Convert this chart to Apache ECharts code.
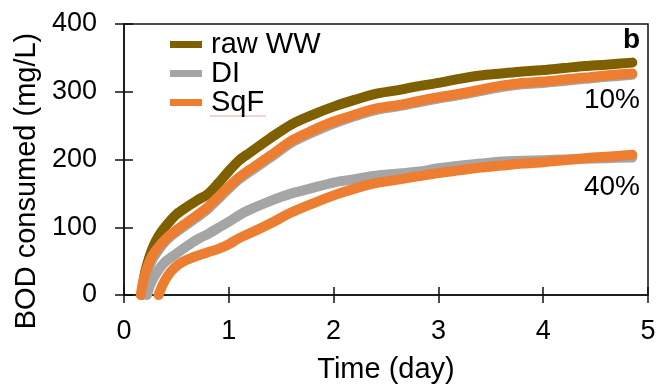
<!DOCTYPE html>
<html>
<head>
<meta charset="utf-8">
<script src="https://cdn.jsdelivr.net/npm/echarts@6/dist/echarts.min.js"></script>
<style>
html,body{margin:0;padding:0;background:#fff;}
#chart{width:666px;height:387px;}
</style>
</head>
<body>
<div id="chart"></div>
<script>
// ---- data ----
const xTicks = [0, 1, 2, 3, 4, 5];
const yTicks = [0, 100, 200, 300, 400];

const rawWW = [[0.17,0],[0.19,25],[0.22,45],[0.27,68],[0.33,87],[0.40,102],[0.50,119],[0.60,130],[0.70,140],[0.80,149],[0.90,165],[1.00,183],[1.10,199],[1.20,210],[1.40,232],[1.60,252],[1.80,266],[2.00,278],[2.20,288],[2.40,297],[2.60,302],[2.80,308],[3.00,313],[3.20,319],[3.40,324],[3.60,327],[3.80,330],[4.00,332],[4.20,335],[4.40,338],[4.60,340],[4.85,343]];

const di10 = [[0.17,0],[0.19,16],[0.22,33],[0.26,49],[0.31,62],[0.40,80],[0.50,93],[0.60,104],[0.70,115],[0.80,127],[0.90,142],[1.00,157],[1.10,171],[1.20,182],[1.40,203],[1.60,225],[1.80,240],[2.00,253],[2.20,264],[2.40,273],[2.60,278],[2.80,284],[3.00,290],[3.20,295],[3.40,301],[3.60,307],[3.80,311],[4.00,313],[4.20,316],[4.40,319],[4.60,322],[4.85,325]];

const di40 = [[0.22,0],[0.25,15],[0.30,30],[0.38,47],[0.50,61],[0.60,72],[0.70,82],[0.80,90],[0.90,99],[1.00,108],[1.10,118],[1.20,126],[1.40,139],[1.60,150],[1.80,158],[2.00,166],[2.20,171],[2.40,176],[2.60,179],[2.80,182],[3.00,187],[3.20,191],[3.40,194],[3.60,197],[3.80,198],[4.00,199],[4.20,200],[4.40,201],[4.60,202],[4.85,203]];

const sqf10 = [[0.16,0],[0.18,18],[0.21,35],[0.25,52],[0.30,65],[0.40,83],[0.50,96],[0.60,107],[0.70,118],[0.80,130],[0.90,145],[1.00,160],[1.10,174],[1.20,185],[1.40,206],[1.60,228],[1.80,243],[2.00,256],[2.20,266],[2.40,275],[2.60,280],[2.80,286],[3.00,292],[3.20,297],[3.40,303],[3.60,309],[3.80,313],[4.00,315],[4.20,318],[4.40,321],[4.60,324],[4.85,327]];

const sqf40 = [[0.33,0],[0.36,12],[0.40,24],[0.45,35],[0.52,45],[0.60,52],[0.70,58],[0.80,63],[0.90,68],[1.00,75],[1.10,84],[1.20,91],[1.40,106],[1.60,122],[1.80,135],[2.00,147],[2.20,157],[2.40,165],[2.60,170],[2.80,175],[3.00,180],[3.20,184],[3.40,188],[3.60,191],[3.80,194],[4.00,196],[4.20,199],[4.40,202],[4.60,204],[4.85,207]];

const legendNames = ['raw WW', 'DI', 'SqF'];
const colors = {'raw WW': '#7F6000', 'DI': '#A5A5A5', 'SqF': '#ED7D31'};
const xTitle = 'Time (day)';
const yTitle = 'BOD consumed (mg/L)';
const panelLabel = 'b';
const pct10 = '10%';
const pct40 = '40%';

// ---- chart ----
const FONT = "'Liberation Sans', Arial, sans-serif";
const chart = echarts.init(document.getElementById('chart'), null, {renderer: 'canvas'});

function mkSeries(name, data) {
  return {
    name: name, type: 'line', data: data, xAxisIndex: 0, yAxisIndex: 0,
    showSymbol: false, symbol: 'none', smooth: 0.3,
    color: colors[name],
    lineStyle: {width: 10, color: colors[name], cap: 'round', join: 'round'},
    itemStyle: {color: colors[name]},
    emphasis: {disabled: true}, animation: false
  };
}

const axisLineStyle = {color: '#111', width: 1.5};

chart.setOption({
  animation: false,
  textStyle: {fontFamily: FONT},
  grid: {left: 124, right: 18, top: 24, bottom: 92, containLabel: false, outerBoundsMode: 'none',
         show: true, borderColor: '#111', borderWidth: 1.5, backgroundColor: 'transparent'},
  legend: {
    data: legendNames, orient: 'vertical', left: 170, top: 30, padding: 0,
    itemWidth: 32, itemHeight: 7, itemGap: 0, icon: 'rect',
    selectedMode: false,
    textStyle: {fontSize: 29, lineHeight: 28, color: '#000', fontFamily: FONT, padding: [0, 0, 0, 4]}
  },
  xAxis: [{
    type: 'value', min: xTicks[0], max: xTicks[xTicks.length - 1], interval: 1,
    name: xTitle, nameLocation: 'middle', nameGap: 60,
    nameTextStyle: {fontSize: 29, color: '#000', fontFamily: FONT},
    axisLine: {show: true, onZero: false, lineStyle: axisLineStyle},
    axisTick: {show: true, inside: false, length: 8, lineStyle: axisLineStyle},
    axisLabel: {fontSize: 27, color: '#000', margin: 23, fontFamily: FONT},
    splitLine: {show: false}
  }, {
    type: 'value', position: 'bottom', min: xTicks[0], max: xTicks[xTicks.length - 1], interval: 1,
    axisLine: {show: false}, axisLabel: {show: false}, splitLine: {show: false},
    axisTick: {show: true, inside: true, length: 8, lineStyle: axisLineStyle}
  }],
  yAxis: [{
    type: 'value', min: yTicks[0], max: yTicks[yTicks.length - 1], interval: 100,
    axisLine: {show: true, onZero: false, lineStyle: axisLineStyle},
    axisTick: {show: true, inside: false, length: 9, lineStyle: axisLineStyle},
    axisLabel: {fontSize: 27, color: '#000', margin: 27, fontFamily: FONT},
    splitLine: {show: false}
  }, {
    type: 'value', position: 'left', min: yTicks[0], max: yTicks[yTicks.length - 1], interval: 100,
    axisLine: {show: false}, axisLabel: {show: false}, splitLine: {show: false},
    axisTick: {show: true, inside: true, length: 9, lineStyle: axisLineStyle}
  }],
  series: [
    mkSeries('raw WW', rawWW),
    mkSeries('DI', di10),
    mkSeries('DI', di40),
    mkSeries('SqF', sqf10),
    mkSeries('SqF', sqf40)
  ],
  graphic: [
    {type: 'text', x: 27, y: 181, rotation: Math.PI / 2,
     style: {text: yTitle, fontSize: 29, fontFamily: FONT, fill: '#000', align: 'center', verticalAlign: 'middle'}},
    {type: 'text', x: 640, y: 40,
     style: {text: panelLabel, fontSize: 28, fontWeight: 'bold', fontFamily: FONT, fill: '#000', align: 'right', verticalAlign: 'middle'}},
    {type: 'text', x: 640, y: 100,
     style: {text: pct10, fontSize: 28, fontFamily: FONT, fill: '#000', align: 'right', verticalAlign: 'middle'}},
    {type: 'text', x: 640, y: 187,
     style: {text: pct40, fontSize: 28, fontFamily: FONT, fill: '#000', align: 'right', verticalAlign: 'middle'}},
    {type: 'line', shape: {x1: 210, y1: 116, x2: 266, y2: 116},
     style: {stroke: '#F2A0A8', lineWidth: 1}}
  ]
});
</script>
</body>
</html>
